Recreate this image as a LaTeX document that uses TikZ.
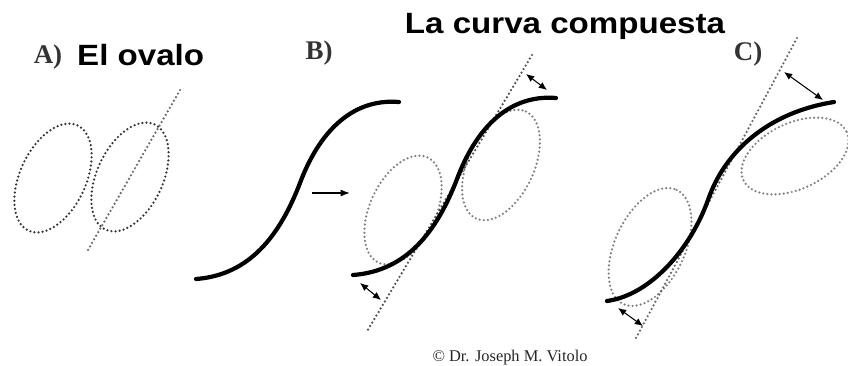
\documentclass[tikz,border=0pt]{standalone}
\usepackage{fontspec}
\setmainfont{Liberation Serif}
\newfontfamily\titlefont[FakeStretch=1.13]{Liberation Sans}
\usepackage{tikz}
\usetikzlibrary{arrows.meta}

\begin{document}
\begin{tikzpicture}[
    x=0.03cm, y=-0.03cm,
    letter/.style={font=\fontsize{23}{23}\selectfont\bfseries, text=black!80, anchor=base, inner sep=0pt},
    title/.style={font=\titlefont\fontsize{25}{25}\selectfont\bfseries, anchor=base, inner sep=0pt},
    oval/.style={line width=2.1pt, dash pattern=on 0pt off 3.5pt, line cap=round},
    curve/.style={line width=3.6pt, line cap=round},
    gap/.style={{Latex[length=7pt,width=6pt]}-{Latex[length=7pt,width=6pt]}, line width=0.9pt}
  ]
    \useasboundingbox (0,0) rectangle (848,365);

    % titles
    \node[letter] (la) at (48,63) {A)};
    \node[title, anchor=base west] (ovalo) at (77,65) {El ovalo};
    \node[letter] (lb) at (319,59) {B)};
    \node[title] (curva) at (565,33) {La curva compuesta};
    \node[letter] (lc) at (748,60) {C)};
    \node[font=\fontsize{14}{14}\selectfont, text=black!85, anchor=base, inner sep=0pt] (copy) at (510,361) {© Dr. Joseph M. Vitolo};

    % A) the oval
    \draw[oval, black!80, rotate around={65:(53,178)}] (53,178) ellipse [x radius=58, y radius=33];
    \draw[oval, black!80, rotate around={65:(130,177)}] (130,177) ellipse [x radius=58, y radius=33];
    \coordinate (atop) at (180,90);
    \coordinate (abot) at (88,250);
    \draw[oval, black!60] (atop) -- (abot);

    % B) the single curve and the compound one
    \draw[curve] (196,279) .. controls (250,275) and (280,235) .. (300,183)
                           .. controls (318,135) and (350,98) .. (399,102);
    \coordinate (from) at (312,193);
    \coordinate (to) at (350,193);
    \draw[-{Latex[length=8pt,width=6pt]}, line width=1.1pt] (from) -- (to);
    \draw[oval, black!50, rotate around={65:(403,210)}] (403,210) ellipse [x radius=58, y radius=33];
    \draw[oval, black!50, rotate around={65:(501,165)}] (501,165) ellipse [x radius=59, y radius=33];
    \coordinate (btop) at (532,55);
    \coordinate (bbot) at (366,333);
    \draw[oval, black!70] (btop) -- (bbot);
    \draw[curve, shift={(157,-4)}] (196,279) .. controls (250,275) and (280,235) .. (300,183)
                           .. controls (318,135) and (350,98) .. (399,102);
    \coordinate (bu1) at (526,74);
    \coordinate (bu2) at (547,90);
    \draw[gap] (bu1) -- (bu2);
    \coordinate (bl1) at (360,283);
    \coordinate (bl2) at (381,300);
    \draw[gap] (bl1) -- (bl2);

    % C) the compound curve, tip bent
    \draw[oval, black!50, rotate around={65:(650,247)}] (650,247) ellipse [x radius=63, y radius=35];
    \draw[oval, black!50, rotate around={25:(795,156)}] (795,156) ellipse [x radius=57, y radius=33];
    \coordinate (ctop) at (797,38);
    \coordinate (cbot) at (636,338);
    \draw[oval, black!60] (ctop) -- (cbot);
    \draw[curve] (607,301) .. controls (650,295) and (690,250) .. (708,200)
                 .. controls (725,150) and (770,112) .. (834,102);
    \coordinate (cu1) at (784,72);
    \coordinate (cu2) at (823,100);
    \draw[gap] (cu1) -- (cu2);
    \coordinate (cl1) at (618,308);
    \coordinate (cl2) at (643,326);
    \draw[gap] (cl1) -- (cl2);
\end{tikzpicture}
\end{document}
